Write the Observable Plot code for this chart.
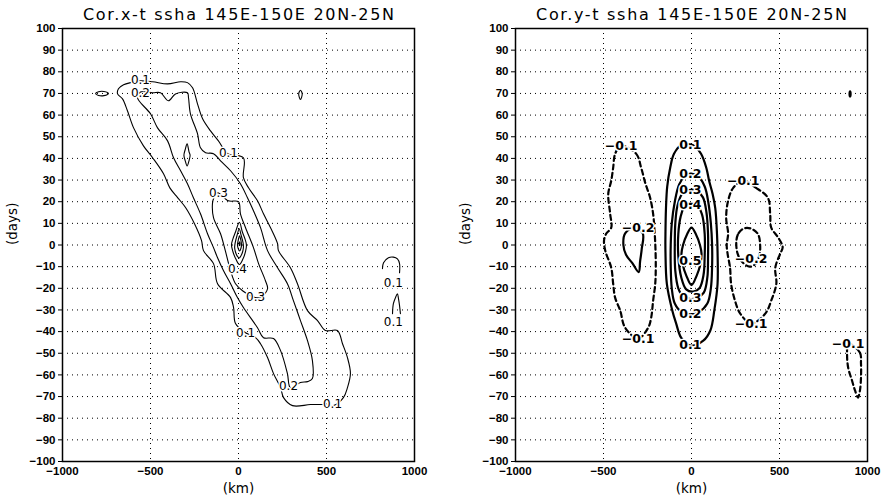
<!DOCTYPE html>
<html><head><meta charset="utf-8">
<script src="https://cdn.jsdelivr.net/npm/d3@7"></script>
<script src="https://cdn.jsdelivr.net/npm/@observablehq/plot@0.6"></script>
<style>
body{margin:0;background:#fff;}
#wrap{position:relative;width:887px;height:502px;overflow:hidden;background:#fff;}
#p1{position:absolute;left:0;top:0;}
#p2{position:absolute;left:443px;top:0;}
</style></head><body><div id="wrap"><div id="p1"></div><div id="p2"></div></div>
<script>
// ---------- axes ----------
const xTicks = [-1000, -500, 0, 500, 1000];
const yTicks = d3.range(-100, 101, 10);
const xGrid = [-500, 0, 500];
const yGrid = d3.range(-90, 91, 10);
const titleX = "Cor.x-t ssha 145E-150E 20N-25N";
const titleY = "Cor.y-t ssha 145E-150E 20N-25N";

// ---------- left panel contours (km, days) ----------
const L_01 = [[-557,75.8],[-488,75.4],[-403,74.4],[-329,75.4],[-290,75.0],[-261,72.6],[-233,65.2],[-204,58.3],[-159,52.7],[-114,48.1],[-62,42.2],[28,40.3],[28,31.1],[57,26.4],[108,20.4],[142,14.4],[182,8.0],[222,0.6],[227,-2.6],[295,-10.5],[335,-17.9],[392,-30.3],[449,-34.9],[494,-39.5],[562,-39.5],[591,-45.6],[619,-52.0],[636,-59.4],[619,-65.9],[596,-70.5],[540,-74.2],[483,-73.7],[409,-73.7],[307,-74.2],[256,-70.5],[239,-65.9],[199,-59.4],[165,-52.0],[125,-45.6],[97,-42.8],[40,-40.5],[-17,-36.3],[-28,-28.9],[-45,-24.3],[-119,-17.9],[-142,-8.6],[-199,-2.6],[-210,2.0],[-250,9.8],[-300,17.2],[-345,21.8],[-390,26.4],[-426,32.9],[-488,40.3],[-540,45.8],[-596,54.1],[-631,62],[-659,67.5],[-687,69.8],[-682,72.2],[-653,74],[-613,75]];
const L_02 = [[-557,70.7],[-488,70.3],[-443,70.3],[-398,66.6],[-358,69.8],[-290,70.3],[-284,68.0],[-273,60.6],[-233,51.4],[-216,44.9],[-187,42.6],[-142,42.2],[-102,38.9],[-45,34.3],[11,28.3],[51,21.8],[85,15.8],[125,8.0],[165,-2.6],[222,-10.5],[278,-17.9],[312,-25.7],[352,-34.9],[392,-44.2],[420,-53.4],[420,-61.7],[392,-63.1],[352,-63.5],[295,-65.9],[278,-59.4],[239,-48.8],[199,-43.2],[142,-42.8],[108,-38.2],[28,-28.9],[-6,-24.3],[-45,-17.9],[-85,-11.9],[-119,-5.9],[-142,-1.2],[-176,5.2],[-216,14.4],[-256,21.8],[-290,28.3],[-329,34.3],[-369,40.3],[-403,48.1],[-460,54.1],[-500,60.6],[-574,68.0]];
const L_03 = [[-119,24.1],[-57,20.4],[0,20.0],[11,14.4],[40,8.0],[85,-1.2],[114,-8.6],[153,-16.5],[165,-20.2],[130,-24],[97,-24.3],[23,-21.1],[-17,-17.9],[-45,-11.9],[-75,-2.6],[-102,5.2],[-142,12.6],[-148,19.1],[-142,21.4]];
const L_04 = [[5,10.5],[22,6],[38,2.5],[45,0],[40,-3],[25,-6.5],[5,-9],[-15,-6.5],[-32,-3],[-40,0],[-33,2.5],[-17,6]];
const L_05 = [[4,7.5],[15,4.5],[26,1],[28,-1],[24,-3],[14,-5],[4,-6],[-8,-5],[-18,-3],[-22,-1],[-19,1],[-8,4.5]];
const L_06 = [[6,4.3],[14,2],[17,0],[14,-1.5],[6,-2.8],[-2,-1.5],[-6,0],[-2,2]];
const L_07 = [[6,1.5],[9,0.6],[6,-0.3],[3,0.6]];
const L_s1 = [[-812,70],[-795,70.8],[-765,70.9],[-739,70],[-765,69],[-795,69.1]];
const L_s2 = [[352,71.5],[362,69.8],[352,67.2],[342,69.8]];
const L_s3 = [[-292,46.7],[-281,43],[-275,41.5],[-281,39],[-292,36.5],[-303,39],[-310,41.5],[-303,44]];
const L_a1 = [[818,-10.9],[824,-8.2],[852,-5.9],[880,-5.6],[903,-6.4],[915,-8.6],[915,-12.8]];
const L_a2 = [[875,-31.7],[880,-27.1],[892,-24.3],[903,-22.5],[909,-24.8],[915,-28],[920,-31.7]];
const L_labels = [[-557,76.3,"0.1"],[-557,70.3,"0.2"],[-57,42.2,"0.1"],[-114,24.1,"0.3"],[-6,-11,"0.4"],[97,-24.3,"0.3"],[40,-40.5,"0.1"],[284,-65,"0.2"],[534,-73.7,"0.1"],[880,-17.4,"0.1"],[880,-35.8,"0.1"]];

// ---------- right panel contours ----------
const R_01 = [[-7,46.5],[20,45.5],[55,42],[84,35.7],[100,29.7],[120,23.6],[135,17],[145,5],[148,-3],[148,-18],[130,-30],[107,-39.5],[67,-44.2],[-7,-46.5],[-59,-42.8],[-87,-36.3],[-110,-30],[-140,-18],[-148,-3],[-148,5],[-145,17],[-138,27],[-121,35.7],[-100,42],[-60,46]];
const R_02 = [[-7,33],[35,32],[75,27],[95,20],[110,10],[117,0],[117,-10],[110,-20],[90,-27],[40,-31],[-7,-32],[-55,-31],[-95,-27],[-112,-20],[-118,-10],[-118,0],[-112,10],[-95,20],[-70,28],[-35,32]];
const R_03 = [[-7,25.5],[30,25],[65,22],[85,15],[94,5],[94,-5],[90,-15],[70,-22],[30,-24.5],[-7,-25],[-45,-24],[-75,-20],[-92,-12],[-95,0],[-92,10],[-80,18],[-50,24]];
const R_04 = [[-7,19],[30,18.5],[60,14],[75,5],[75,-5],[68,-14],[45,-20],[10,-21.5],[-30,-20.5],[-58,-15],[-75,-5],[-75,5],[-62,13],[-35,18.5]];
const R_05 = [[0,8],[25,5],[48,0],[57,-4],[50,-9],[30,-14],[0,-18.5],[-30,-14],[-50,-9],[-57,-4],[-48,0],[-25,5]];
const R_n1 = [[-400,45.8],[-314,42.1],[-286,35.7],[-263,28.7],[-235,21.8],[-218,14.4],[-210,6.6],[-205,-1.2],[-203,-10.5],[-206,-17.9],[-218,-25.7],[-229,-33.5],[-246,-38.2],[-303,-43.2],[-377,-38.2],[-405,-30.3],[-434,-24.3],[-445,-17.9],[-456,-10.5],[-490,-2.6],[-497,2.0],[-485,5.2],[-456,8.0],[-462,14.4],[-473,23.6],[-456,29.7],[-445,35.7],[-434,42.1]];
const R_n2 = [[-325,8],[-277,5.4],[-283,-2],[-292,-7.5],[-300,-12.5],[-335,-8.5],[-372,-4.5],[-387,0],[-377,5.4]];
const R_n3 = [[294,29.7],[367,26.4],[434,21.8],[447,14.4],[453,8.0],[492,3.5],[518,-1],[504,-4],[476,-10.5],[482,-17.9],[453,-25.7],[419,-31.7],[339,-36.3],[277,-31.7],[247,-25.7],[225,-17.9],[219,-10.5],[205,-4],[200,0],[208,5.2],[197,12.6],[208,20.4],[237,26.4]];
const R_n4 = [[255,2],[268,5.5],[300,7.7],[340,7.5],[378,5],[390,0],[385,-5],[360,-9],[330,-10],[290,-8],[262,-4]];
const R_n5 = [[890,-45.6],[957,-49.7],[963,-54.7],[963,-61.2],[957,-67.2],[946,-70.5],[929,-67.2],[912,-62.6],[890,-56.6],[884,-50.2]];
const R_s1 = [[901,71],[904,69.8],[901,68.6],[898,69.8]];
const R_labels = [[-400,45.8,"−0.1"],[-7,46.4,"0.1"],[-7,33,"0.2"],[-7,25.6,"0.3"],[-7,18.6,"0.4"],[-303,8,"−0.2"],[-7,-7.5,"0.5"],[-7,-24.5,"0.3"],[-7,-31.9,"0.2"],[-7,-46.4,"0.1"],[-303,-43.2,"−0.1"],[294,29.7,"−0.1"],[339,-6.4,"−0.2"],[339,-36.3,"−0.1"],[890,-45.6,"−0.1"]];

// ---------- helpers ----------
const rows = (list) => list.flatMap(([id, pts]) => pts.map(([x, y]) => ({id, x, y})));
const fmt = d => d < 0 ? "\u2212" + Math.abs(d) : String(d);

function panel({title, closed, open, dashed, labels, w, ml, mr, lw, labelWeight, labelSize}) {
  const grid = {stroke: "#000", strokeOpacity: 1, strokeWidth: 1, strokeDasharray: "1,4"};
  const marks = [
    Plot.gridY(yGrid, grid),
    Plot.gridX(xGrid, grid),
  ];
  if (closed.length) marks.push(Plot.line(rows(closed), {x: "x", y: "y", z: "id", curve: "catmull-rom-closed", stroke: "#000", strokeWidth: lw}));
  if (open.length) marks.push(Plot.line(rows(open), {x: "x", y: "y", z: "id", curve: "catmull-rom", stroke: "#000", strokeWidth: lw}));
  if (dashed.length) marks.push(Plot.line(rows(dashed), {x: "x", y: "y", z: "id", curve: "catmull-rom-closed", stroke: "#000", strokeWidth: lw, strokeDasharray: "5,3.5"}));
  marks.push(Plot.text(labels, {x: d => d[0], y: d => d[1], text: d => d[2], fill: "#000", stroke: "#fff", strokeWidth: 3, paintOrder: "stroke", fontSize: labelSize, fontWeight: labelWeight, fontFamily: "DejaVu Sans, sans-serif"}));
  marks.push(Plot.frame({stroke: "#000", strokeWidth: 1.5}));
  marks.push(Plot.axisY(yTicks, {tickSize: 4, tickPadding: 3, tickFormat: fmt, fontSize: 11.5, fontWeight: "bold", label: null}));
  marks.push(Plot.axisX(xTicks, {tickSize: 0, tickPadding: 5, tickFormat: fmt, fontSize: 11.5, fontWeight: "bold", label: null}));
  marks.push(Plot.text([title], {frameAnchor: "top", lineAnchor: "bottom", dy: -9, fontSize: 16, fontFamily: "DejaVu Sans, sans-serif", text: d => d}));
  marks.push(Plot.text(["(km)"], {frameAnchor: "bottom", lineAnchor: "middle", dy: 27, fontSize: 13.5, fontFamily: "DejaVu Sans, sans-serif", text: d => d}));
  marks.push(Plot.text(["(days)"], {frameAnchor: "left", dx: -50, rotate: -90, fontSize: 13.5, fontFamily: "DejaVu Sans, sans-serif", text: d => d}));
  const svg = Plot.plot({
    width: w, height: 502, marginLeft: ml, marginRight: mr, marginTop: 28, marginBottom: 41,
    x: {domain: [-1000, 1000], axis: null},
    y: {domain: [-100, 100], axis: null},
    style: {fontFamily: "Liberation Sans, Arial, sans-serif", background: "#fff", color: "#000"},
    marks
  });
  d3.select(svg).selectAll("text").filter(function() { return this.textContent === title; })
    .attr("textLength", 311).attr("lengthAdjust", "spacing");
  return svg;
}

document.getElementById("p1").append(panel({
  title: titleX,
  closed: [["c01", L_01], ["c02", L_02], ["c03", L_03], ["c04", L_04], ["c05", L_05], ["c06", L_06], ["c07", L_07], ["s1", L_s1], ["s2", L_s2], ["s3", L_s3]],
  open: [["a1", L_a1], ["a2", L_a2]],
  dashed: [],
  labels: L_labels, w: 443, ml: 62, mr: 29, lw: 1.1, labelWeight: "normal", labelSize: 12
}));
document.getElementById("p2").append(panel({
  title: titleY,
  closed: [["c01", R_01], ["c02", R_02], ["c03", R_03], ["c04", R_04], ["c05", R_05], ["n2", R_n2], ["s1", R_s1]],
  open: [],
  dashed: [["n1", R_n1], ["n3", R_n3], ["n4", R_n4], ["n5", R_n5]],
  labels: R_labels, w: 444, ml: 72, mr: 20, lw: 2.2, labelWeight: "bold", labelSize: 12.5
}));
</script></body></html>
